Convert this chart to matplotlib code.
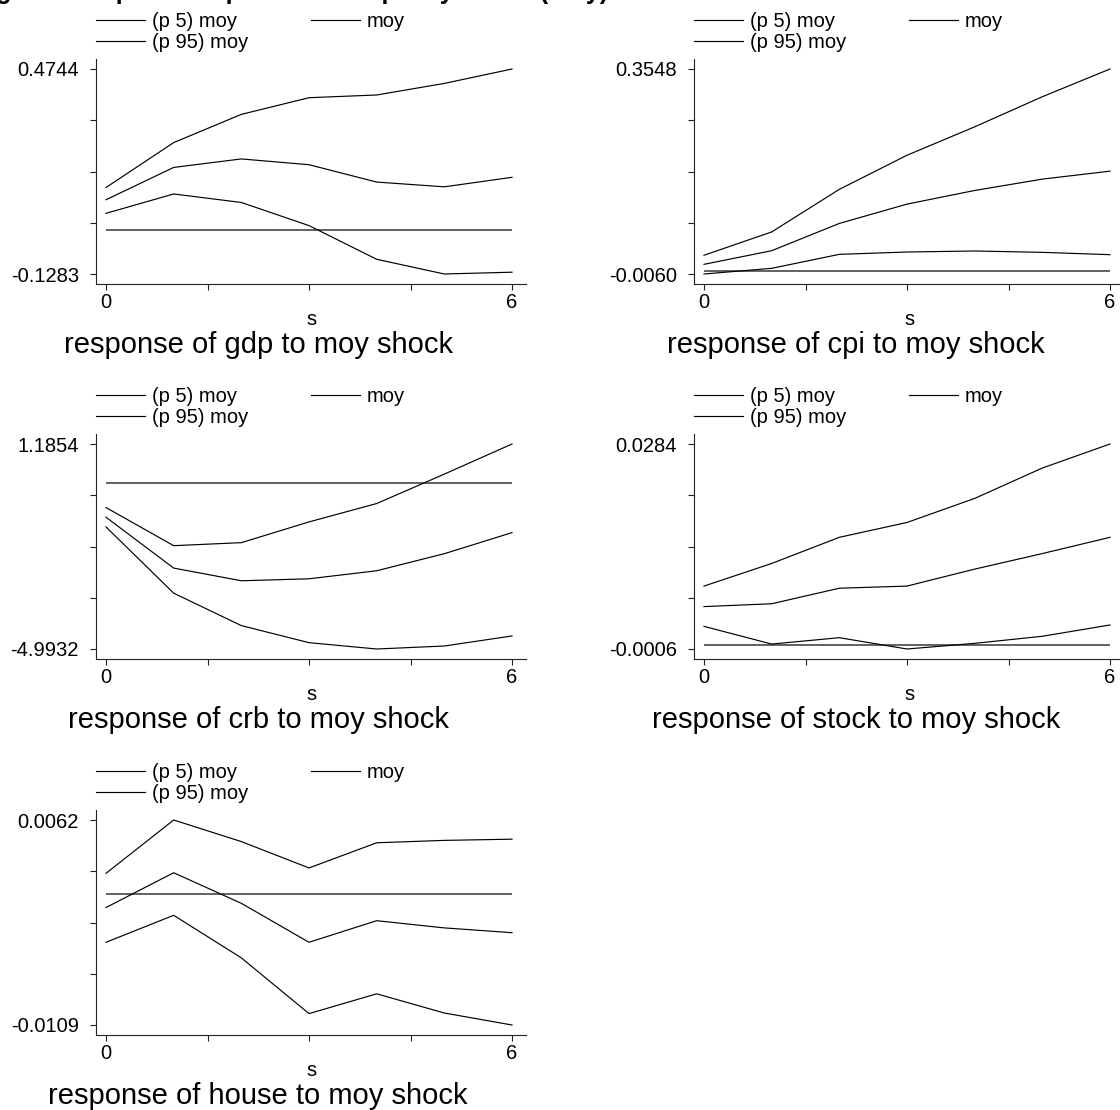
import matplotlib
matplotlib.use("Agg")
import matplotlib.pyplot as plt
import numpy as np

plt.rcParams['font.family'] = ['Liberation Sans', 'DejaVu Sans']

# ---------------- data ----------------
steps = [0, 1, 2, 3, 4, 5, 6]
xtick_vals = [0, 1.5, 3, 4.5, 6]
xtick_labels = ['0', '', '', '', '6']

responses = ['gdp', 'cpi', 'crb', 'stock', 'house']

gdp_p5 = [0.050, 0.107, 0.082, 0.014, -0.085, -0.1283, -0.123]
gdp_moy = [0.090, 0.185, 0.210, 0.193, 0.142, 0.128, 0.156]
gdp_p95 = [0.126, 0.258, 0.341, 0.390, 0.398, 0.432, 0.4744]

cpi_p5 = [-0.0060, 0.0040, 0.0286, 0.0327, 0.0345, 0.0321, 0.0280]
cpi_moy = [0.011, 0.035, 0.083, 0.117, 0.141, 0.161, 0.175]
cpi_p95 = [0.027, 0.068, 0.143, 0.203, 0.253, 0.306, 0.3548]

crb_p5 = [-1.314, -3.310, -4.288, -4.802, -4.9932, -4.903, -4.600]
crb_moy = [-1.022, -2.554, -2.937, -2.877, -2.635, -2.121, -1.486]
crb_p95 = [-0.730, -1.879, -1.788, -1.163, -0.609, 0.278, 1.1854]

stock_p5 = [0.0026, 0.0001, 0.0010, -0.0006, 0.0002, 0.0012, 0.0028]
stock_moy = [0.0054, 0.0058, 0.0080, 0.0083, 0.0107, 0.0129, 0.0152]
stock_p95 = [0.0083, 0.0115, 0.0152, 0.0173, 0.0207, 0.0250, 0.0284]

house_p5 = [-0.0040, -0.00175, -0.0053, -0.00995, -0.0083, -0.0099, -0.0109]
house_moy = [-0.0011, 0.0018, -0.00075, -0.0040, -0.0022, -0.0028, -0.0032]
house_p95 = [0.00175, 0.0062, 0.0044, 0.0022, 0.0043, 0.0045, 0.0046]

p5_series = [gdp_p5, cpi_p5, crb_p5, stock_p5, house_p5]
moy_series = [gdp_moy, cpi_moy, crb_moy, stock_moy, house_moy]
p95_series = [gdp_p95, cpi_p95, crb_p95, stock_p95, house_p95]

ytick_lo = [-0.1283, -0.0060, -4.9932, -0.0006, -0.0109]
ytick_hi = [0.4744, 0.3548, 1.1854, 0.0284, 0.0062]
ylabel_lo = ['-0.1283', '-0.0060', '-4.9932', '-0.0006', '-0.0109']
ylabel_hi = ['0.4744', '0.3548', '1.1854', '0.0284', '0.0062']

zero_level = 0.0
legend_labels = ['(p 5) moy', 'moy', '(p 95) moy']
xlabel_text = 's'
fig_title = 'Figure 2: impulse response to the policy shock (moy)'

# ---------------- layout (pixels) ----------------
W, H = 1120, 1110
fig = plt.figure(figsize=(W / 100, H / 100), dpi=100)
fig.patch.set_facecolor('white')

col_left = [96, 694]
row_top_tick = [69, 444, 820]
row_bot_tick = [274, 649, 1025]
axw = 430
x0_off, x6_off = 10, 416
ymarg = 10

fs_tick = 14.5
fs_sub = 21

def px_box(l, t, r, b):
    return [l / W, 1 - b / H, (r - l) / W, (b - t) / H]

for i, name in enumerate(responses):
    r, c = divmod(i, 2)
    L = col_left[c]
    T = row_top_tick[r] - ymarg
    B = row_bot_tick[r] + ymarg
    ax = fig.add_axes(px_box(L, T, L + axw, B))
    ax.set_facecolor('white')

    ppu = (x6_off - x0_off) / 6.0
    ax.set_xlim(-x0_off / ppu, (axw - x0_off) / ppu)
    lo, hi = ytick_lo[i], ytick_hi[i]
    span = row_bot_tick[r] - row_top_tick[r]
    upp = (hi - lo) / span
    ax.set_ylim(lo - ymarg * upp, hi + ymarg * upp)

    ax.hlines(zero_level, steps[0], steps[-1], color='#555555', lw=1.3, zorder=2)
    l5, = ax.plot(steps, p5_series[i], color='black', lw=0.85, zorder=3)
    lm, = ax.plot(steps, moy_series[i], color='black', lw=0.85, zorder=3)
    l95, = ax.plot(steps, p95_series[i], color='black', lw=0.85, zorder=3)

    for s in ['top', 'right']:
        ax.spines[s].set_visible(False)
    for s in ['left', 'bottom']:
        ax.spines[s].set_color('#222222')
        ax.spines[s].set_linewidth(0.8)

    ax.set_xticks(xtick_vals)
    ax.set_xticklabels(xtick_labels)
    ax.set_yticks(np.linspace(lo, hi, 5))
    ax.set_yticklabels([ylabel_lo[i], '', '', '', ylabel_hi[i]])
    ax.tick_params(axis='both', direction='out', length=4.3, width=0.8,
                   color='#222222', labelsize=fs_tick, labelcolor='black')
    ax.tick_params(axis='y', pad=8)
    ax.tick_params(axis='x', pad=2.5)

    ax.set_xlabel(xlabel_text, fontsize=fs_tick, labelpad=-2)

    ax.annotate('response of %s to moy shock' % name, xy=(0, 0),
                xycoords='axes fraction', xytext=(162 * 0.72, -61 * 0.72),
                textcoords='offset points', ha='center', va='center',
                fontsize=fs_sub)

    leg_top = row_top_tick[r] - 57
    ax.legend(handles=[l5, l95, lm],
              labels=[legend_labels[0], legend_labels[2], legend_labels[1]],
              ncol=2, loc='upper left',
              bbox_to_anchor=(L / W, 1 - leg_top / H),
              bbox_transform=fig.transFigure, frameon=False,
              fontsize=fs_tick, borderpad=0, borderaxespad=0,
              handlelength=2.44, handletextpad=0.35, columnspacing=3.1,
              labelspacing=0.1)

fig.text(-26 / W, 1 + 1 / H, fig_title, fontsize=18, fontweight='bold',
         ha='left', va='baseline')

fig.savefig('out.png', dpi=100, facecolor='white')
